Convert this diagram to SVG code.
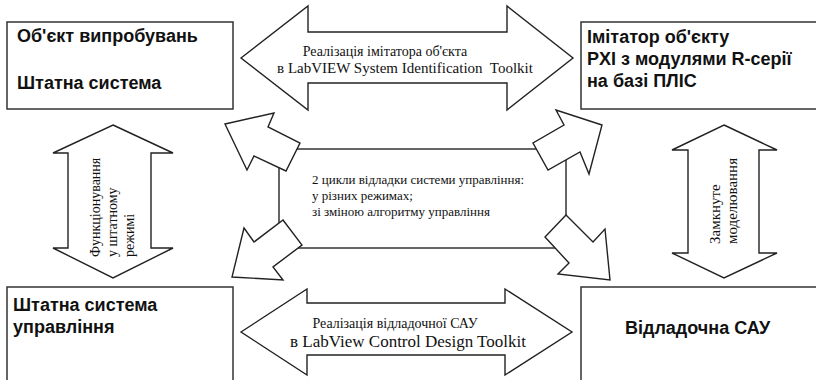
<svg xmlns="http://www.w3.org/2000/svg" width="816" height="380" viewBox="0 0 816 380">
<style>
.box{fill:#fff;stroke:#333;stroke-width:1.5}
.arr{fill:#fff;stroke:#222;stroke-width:1.4;stroke-linejoin:miter}
.b{font-family:"Liberation Sans",Arial,sans-serif;font-weight:bold;font-size:18px;fill:#111}
.s{font-family:"Liberation Serif","Times New Roman",serif;fill:#111}
</style>
<rect width="816" height="380" fill="#fff"/>
<g id="node-object">
<rect class="box" x="7" y="22" width="226" height="87"/>
<text class="b" x="17" y="42">Об'єкт випробувань</text>
<text class="b" x="17" y="89">Штатна система</text>
</g>
<g id="node-imitator">
<rect class="box" x="581" y="22" width="240" height="87"/>
<text class="b" x="587" y="43">Імітатор об'єкту</text>
<text class="b" x="587" y="65">PXI з модулями R-серії</text>
<text class="b" x="587" y="87">на базі ПЛІС</text>
</g>
<g id="node-standard-cs">
<rect class="box" x="7" y="287" width="226" height="100"/>
<text class="b" x="13" y="311">Штатна система</text>
<text class="b" x="13" y="333">управління</text>
</g>
<g id="node-debug-sau">
<rect class="box" x="581" y="287" width="240" height="100"/>
<text class="b" x="625" y="334">Відладочна САУ</text>
</g>
<g id="node-center">
<rect class="box" x="279" y="149" width="287" height="99"/>
<text class="s" font-size="13" x="312" y="184">2 цикли відладки системи управління:</text>
<text class="s" font-size="13" x="312" y="200">у різних режимах;</text>
<text class="s" font-size="13" x="312" y="216">зі зміною алгоритму управління</text>
</g>
<g id="connectors">
<polygon class="arr" points="241,58 308,6 308,32 507,32 507,6 573,58 507,110 507,83 308,83 308,110"/>
<text class="s" font-size="14" x="385" y="56" text-anchor="middle">Реалізація імітатора об'єкта</text>
<text class="s" font-size="15" x="405" y="73" text-anchor="middle" xml:space="preserve">в LabVIEW System Identification  Toolkit</text>
<polygon class="arr" points="241,332 307,289 307,303 505,303 505,289 572,332 505,375 505,355 307,355 307,375"/>
<text class="s" font-size="14" x="395" y="328" text-anchor="middle">Реалізація відладочної САУ</text>
<text class="s" font-size="17" x="408" y="347" text-anchor="middle">в LabView Control Design Toolkit</text>
<polygon class="arr" points="113,125 173,153 151,153 151,248 173,248 113,278 53,248 68,248 68,153 53,153"/>
<g transform="translate(100,257) rotate(-90)">
<text class="s" font-size="14" x="0" y="0">Функціонування</text>
<text class="s" font-size="14" x="0" y="17">у штатному</text>
<text class="s" font-size="14" x="0" y="34">режимі</text>
</g>
<polygon class="arr" points="724,125 777,150 759,150 759,253 777,253 724,278 672,253 688,253 688,150 672,150"/>
<g transform="translate(720,244) rotate(-90)">
<text class="s" font-size="15" x="0" y="0">Замкнуте</text>
<text class="s" font-size="15" x="0" y="17">моделювання</text>
</g>
<polygon class="arr" points="225,124 274,113 268,127 300,143 286,171 254,156 247,170"/>
<polygon class="arr" points="602,125 556,110 564,125 533,143 548,170 580,152 589,174"/>
<polygon class="arr" points="283,220 302,245 273,267 283,280 232,277 244,228 254,242"/>
<polygon class="arr" points="566,215 545,237 569,263 558,274 610,280 605,229 593,242"/>
</g>
</svg>
